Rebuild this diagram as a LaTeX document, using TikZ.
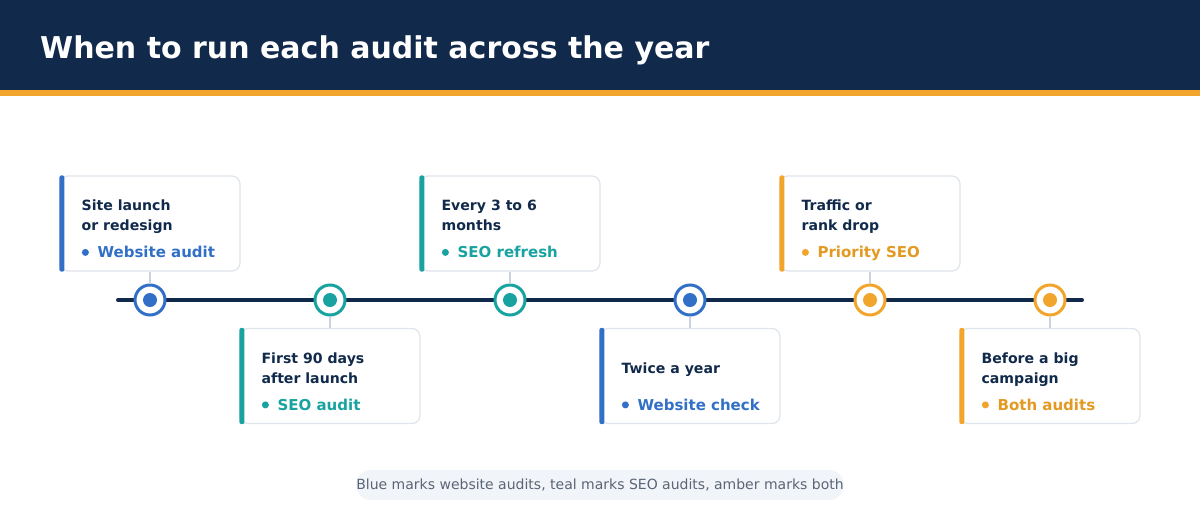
\documentclass[tikz,border=0pt]{standalone}
\usepackage{fontspec}
\setmainfont{DejaVu Sans}
\usetikzlibrary{calc}

\definecolor{navy}{HTML}{112A4B}
\definecolor{amber}{HTML}{F2A52C}
\definecolor{ambertext}{HTML}{E39A22}
\definecolor{webblue}{HTML}{3170C6}
\definecolor{seoteal}{HTML}{18A3A0}
\definecolor{cardline}{HTML}{DFE4EA}
\definecolor{stem}{HTML}{CBD3DC}
\definecolor{notebg}{HTML}{F1F5F9}
\definecolor{notetext}{HTML}{5B6577}

\begin{document}
\begin{tikzpicture}[x=1pt, y=-1pt,
          card/.style={draw=cardline, line width=1.2pt, fill=white, rounded corners=8pt,
            minimum width=180pt, minimum height=95pt, inner sep=0pt},
          when/.style={anchor=base west, align=left, text=navy, inner sep=0pt,
            font=\fontsize{14.1}{20}\selectfont\bfseries},
          kind/.style={anchor=base west, inner sep=0pt, font=\fontsize{15}{18}\selectfont\bfseries},
          marker/.style={circle, draw=#1, line width=3pt, fill=white, minimum size=30pt, inner sep=0pt},
          stemline/.style={draw=stem, line width=2pt},
        ]
  % frame and header
  \useasboundingbox (0,0) rectangle (1200,520);
  \fill[navy] (0,0) rectangle (1200,90);
  \fill[amber] (0,90) rectangle (1200,96);
  \node[anchor=base west, text=white, inner sep=0pt, font=\fontsize{30}{36}\selectfont\bfseries]
    (title) at (40,58) {When to run each audit across the year};

  % timeline
  \coordinate (tl) at (118,300);
  \coordinate (tr) at (1082,300);
  \draw[navy, line width=4pt, line cap=round] (tl) -- (tr);

  % cards
  \node[card] (c1) at (150,223.5) {};
  \node[card] (c2) at (330,376) {};
  \node[card] (c3) at (510,223.5) {};
  \node[card] (c4) at (690,376) {};
  \node[card] (c5) at (870,223.5) {};
  \node[card] (c6) at (1050,376) {};

  % markers
  \node[marker=webblue] (m1) at (150,300) {};
  \node[marker=seoteal] (m2) at (330,300) {};
  \node[marker=seoteal] (m3) at (510,300) {};
  \node[marker=webblue] (m4) at (690,300) {};
  \node[marker=amber]   (m5) at (870,300) {};
  \node[marker=amber]   (m6) at (1050,300) {};
  \fill[webblue] (m1) circle (7);
  \fill[seoteal] (m2) circle (7);
  \fill[seoteal] (m3) circle (7);
  \fill[webblue] (m4) circle (7);
  \fill[amber]   (m5) circle (7);
  \fill[amber]   (m6) circle (7);

  % stems
  \draw[stemline] (c1.south) -- (m1.north);
  \draw[stemline] (c2.north) -- (m2.south);
  \draw[stemline] (c3.south) -- (m3.north);
  \draw[stemline] (c4.north) -- (m4.south);
  \draw[stemline] (c5.south) -- (m5.north);
  \draw[stemline] (c6.north) -- (m6.south);

  % accent bars
  \fill[webblue, rounded corners=2pt] (c1.north west) rectangle ($(c1.south west)+(5,0)$);
  \fill[seoteal, rounded corners=2pt] (c2.north west) rectangle ($(c2.south west)+(5,0)$);
  \fill[seoteal, rounded corners=2pt] (c3.north west) rectangle ($(c3.south west)+(5,0)$);
  \fill[webblue, rounded corners=2pt] (c4.north west) rectangle ($(c4.south west)+(5,0)$);
  \fill[amber, rounded corners=2pt]   (c5.north west) rectangle ($(c5.south west)+(5,0)$);
  \fill[amber, rounded corners=2pt]   (c6.north west) rectangle ($(c6.south west)+(5,0)$);

  % card texts (first baseline 35 below the top edge)
  \node[when] (w1) at ($(c1.north west)+(22,35.5)$) {Site launch};
  \node[when] (w1b) at ($(c1.north west)+(22,55.5)$) {or redesign};
  \node[when] (w2) at ($(c2.north west)+(22,35.5)$) {First 90 days};
  \node[when] (w2b) at ($(c2.north west)+(22,55.5)$) {after launch};
  \node[when] (w3) at ($(c3.north west)+(22,35.5)$) {Every 3 to 6};
  \node[when] (w3b) at ($(c3.north west)+(22,55.5)$) {months};
  \node[when] (w4) at ($(c4.north west)+(22,45.5)$) {Twice a year};
  \node[when] (w5) at ($(c5.north west)+(22,35.5)$) {Traffic or};
  \node[when] (w5b) at ($(c5.north west)+(22,55.5)$) {rank drop};
  \node[when] (w6) at ($(c6.north west)+(22,35.5)$) {Before a big};
  \node[when] (w6b) at ($(c6.north west)+(22,55.5)$) {campaign};

  \fill[webblue] ($(c1.north west)+(26,77)$) circle (3.5);
  \fill[seoteal] ($(c2.north west)+(26,77)$) circle (3.5);
  \fill[seoteal] ($(c3.north west)+(26,77)$) circle (3.5);
  \fill[webblue] ($(c4.north west)+(26,77)$) circle (3.5);
  \fill[amber]   ($(c5.north west)+(26,77)$) circle (3.5);
  \fill[amber]   ($(c6.north west)+(26,77)$) circle (3.5);
  \node[kind, text=webblue]   (k1) at ($(c1.north west)+(38,82.5)$) {Website audit};
  \node[kind, text=seoteal]   (k2) at ($(c2.north west)+(38,82.5)$) {SEO audit};
  \node[kind, text=seoteal]   (k3) at ($(c3.north west)+(38,82.5)$) {SEO refresh};
  \node[kind, text=webblue]   (k4) at ($(c4.north west)+(38,82.5)$) {Website check};
  \node[kind, text=ambertext] (k5) at ($(c5.north west)+(38,82.5)$) {Priority SEO};
  \node[kind, text=ambertext] (k6) at ($(c6.north west)+(38,82.5)$) {Both audits};

  % legend note
  \node[fill=notebg, rounded corners=14pt, minimum width=478pt, minimum height=30pt, inner xsep=0pt,
        text=notetext, font=\fontsize{14}{16}\selectfont] (note) at (600,485)
    {Blue marks website audits, teal marks SEO audits, amber marks both};
\end{tikzpicture}
\end{document}
